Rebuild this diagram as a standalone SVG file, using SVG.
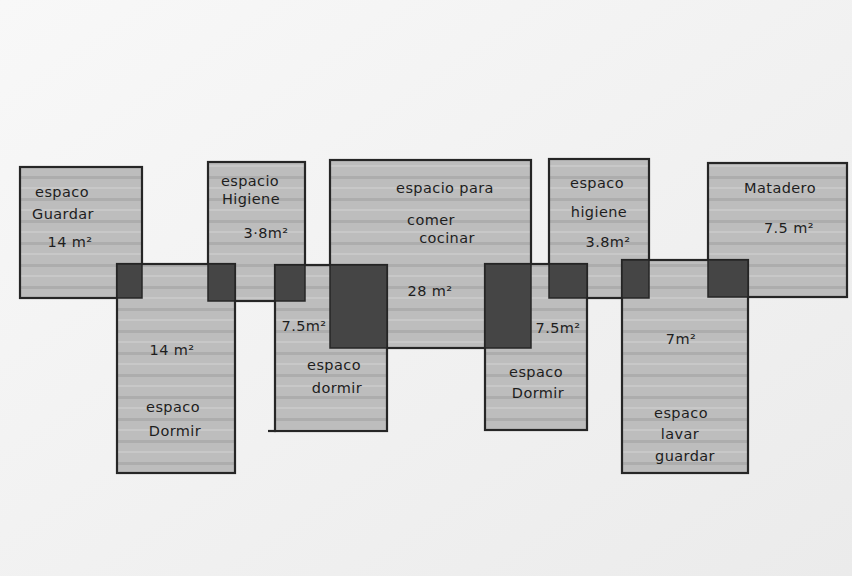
<svg xmlns="http://www.w3.org/2000/svg" width="852" height="576" viewBox="0 0 852 576">
<defs>
<linearGradient id="bg" x1="0" y1="0" x2="1" y2="1">
<stop offset="0" stop-color="#f8f8f8"/>
<stop offset="1" stop-color="#ebebeb"/>
</linearGradient>
<pattern id="stripes" patternUnits="userSpaceOnUse" width="852" height="22">
<rect width="852" height="22" fill="#bdbdbd"/>
<rect y="0" width="852" height="3" fill="#adadad"/>
<rect y="11" width="852" height="2" fill="#c8c8c8"/>
</pattern>
</defs>
<style>
.room{fill:url(#stripes);stroke:#262626;stroke-width:2.2}
.ov{fill:#454545;stroke:#262626;stroke-width:1.5}
text{font-family:"DejaVu Sans","Liberation Sans",sans-serif;font-size:14.5px;letter-spacing:0.4px;fill:#1e1e1e;text-anchor:middle}
</style>
<rect width="852" height="576" fill="url(#bg)"/>
<g id="guardar"><rect class="room" x="20" y="167" width="122" height="131"/>
<text x="62" y="197">espaco</text><text x="63" y="219">Guardar</text><text x="70" y="247">14 m²</text></g>
<g id="higiene1"><rect class="room" x="208" y="162" width="97" height="139"/>
<text x="250" y="186">espacio</text><text x="251" y="204">Higiene</text><text x="266" y="238">3·8m²</text></g>
<g id="comer"><rect class="room" x="330" y="160" width="201" height="188"/>
<text x="445" y="193">espacio para</text><text x="431" y="225">comer</text><text x="447" y="243">cocinar</text><text x="430" y="296">28 m²</text></g>
<g id="higiene2"><rect class="room" x="549" y="159" width="100" height="139"/>
<text x="597" y="188">espaco</text><text x="599" y="217">higiene</text><text x="608" y="247">3.8m²</text></g>
<g id="matadero"><rect class="room" x="708" y="163" width="139" height="134"/>
<text x="780" y="193">Matadero</text><text x="789" y="233">7.5 m²</text></g>
<g id="dormir1"><rect class="room" x="117" y="264" width="118" height="209"/>
<text x="172" y="355">14 m²</text><text x="173" y="412">espaco</text><text x="175" y="436">Dormir</text></g>
<g id="dormir2"><rect class="room" x="275" y="265" width="112" height="166"/>
<text x="304" y="331">7.5m²</text><text x="334" y="370">espaco</text><text x="337" y="393">dormir</text></g>
<g id="dormir3"><rect class="room" x="485" y="264" width="102" height="166"/>
<text x="558" y="333">7.5m²</text><text x="536" y="377">espaco</text><text x="538" y="398">Dormir</text></g>
<g id="lavar"><rect class="room" x="622" y="260" width="126" height="213"/>
<text x="681" y="344">7m²</text><text x="681" y="418">espaco</text><text x="680" y="439">lavar</text><text x="685" y="461">guardar</text></g>
<g id="overlaps">
<rect class="ov" x="117" y="264" width="25" height="34"/>
<rect class="ov" x="208" y="264" width="27" height="37"/>
<rect class="ov" x="275" y="265" width="30" height="36"/>
<rect class="ov" x="330" y="265" width="57" height="83"/>
<rect class="ov" x="485" y="264" width="46" height="84"/>
<rect class="ov" x="549" y="264" width="38" height="34"/>
<rect class="ov" x="622" y="260" width="27" height="38"/>
<rect class="ov" x="708" y="260" width="40" height="37"/>
</g>
<g id="connectors"><line x1="268" y1="431" x2="276" y2="431" stroke="#262626" stroke-width="2.2"/></g>
</svg>
